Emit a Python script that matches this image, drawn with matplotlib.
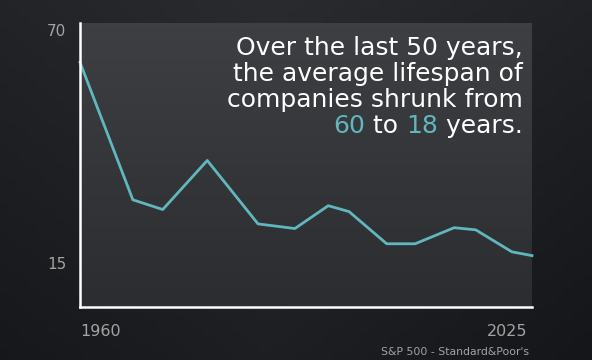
"""Average lifespan of S&P 500 companies, dark slide style (saved as PNG)."""

import matplotlib

matplotlib.use("Agg")
import matplotlib.pyplot as plt
from matplotlib.colors import LinearSegmentedColormap
import numpy as np

years = [1960, 1967.6, 1971.9, 1978.3, 1985.6, 1990.9, 1995.7, 1998.7,
         2004.1, 2008.2, 2013.8, 2016.9, 2022.1, 2025]
lifespan = [62.4, 29.9, 27.6, 39.2, 24.2, 23.1, 28.5, 27.1,
            19.5, 19.5, 23.3, 22.8, 17.6, 16.7]
y_ticks = [70, 15]
x_ticks = [1960, 2025]
headline = ["Over the last 50 years,", "the average lifespan of",
            "companies shrunk from"]
last_line = [("60", "teal"), (" to ", "white"), ("18", "teal"), (" years.", "white")]

TEAL = "#60b7be"
GREY = "#a3a3a3"
HEAD_SIZE = 18

plt.rcParams["font.family"] = ["DejaVu Sans"]

fig = plt.figure(figsize=(5.92, 3.60), dpi=100)
fig.patch.set_facecolor("#1d1e21")

# slide background: dark, a bit lighter towards the top middle
bg = fig.add_axes([0, 0, 1, 1], zorder=-10)
X, Y = np.meshgrid(np.linspace(0, 1, 64), np.linspace(0, 1, 64))
shade = 0.55 * Y + 0.45 * (1 - np.abs(X - 0.45) * 1.6)
bg.imshow(shade, cmap=LinearSegmentedColormap.from_list("bg", ["#141518", "#2a2b2f"]),
          extent=(0, 1, 0, 1), origin="lower", aspect="auto", vmin=0, vmax=1)
bg.set_axis_off()

ax = fig.add_axes([80 / 592, 1 - 307 / 360, 452 / 592, 284 / 360])
ax.imshow(np.linspace(0, 1, 64).reshape(-1, 1),
          cmap=LinearSegmentedColormap.from_list("panel", ["#2c2d30", "#3d3f42"]),
          extent=(0, 1, 0, 1), origin="lower", aspect="auto",
          transform=ax.transAxes, zorder=0)

ax.plot(years, lifespan, color=TEAL, linewidth=2.0, zorder=3, clip_on=False)
ax.set_xlim(1960, 2025)
ax.set_ylim(4.55, 71.7)

for side in ["top", "right"]:
    ax.spines[side].set_visible(False)
for side in ["left", "bottom"]:
    ax.spines[side].set_color("white")
    ax.spines[side].set_linewidth(1.8)
    ax.spines[side].set_zorder(5)

ax.set_yticks(y_ticks)
ax.set_yticklabels([str(v) for v in y_ticks], color=GREY, fontsize=11)
ax.tick_params(axis="y", length=0, pad=10)
ax.set_xticks([])

ax.text(0.0, -0.085, str(x_ticks[0]), transform=ax.transAxes, ha="left",
        va="center", color=GREY, fontsize=11.5)
ax.text(0.99, -0.085, str(x_ticks[1]), transform=ax.transAxes, ha="right",
        va="center", color=GREY, fontsize=11.5)
fig.text(529 / 592, 1 - 352 / 360, "S&P 500 - Standard&Poor's", ha="right",
         va="center", color=GREY, fontsize=7.8)

# headline, right aligned
tx = 523 / 592
for s, b in zip(headline, [55, 81, 107]):
    fig.text(tx, 1 - b / 360, s, ha="right", va="baseline", color="white",
             fontsize=HEAD_SIZE)

# last line built right to left so the numbers can be teal
colors = {"teal": TEAL, "white": "white"}
s, c = last_line[-1]
prev = fig.text(tx, 1 - 133 / 360, s, ha="right", va="baseline",
                color=colors[c], fontsize=HEAD_SIZE)
for s, c in reversed(last_line[:-1]):
    prev = ax.annotate(s, xy=(0, 0), xycoords=prev, ha="right", va="bottom",
                       color=colors[c], fontsize=HEAD_SIZE)

fig.savefig("out.png", dpi=100, facecolor=fig.get_facecolor())
